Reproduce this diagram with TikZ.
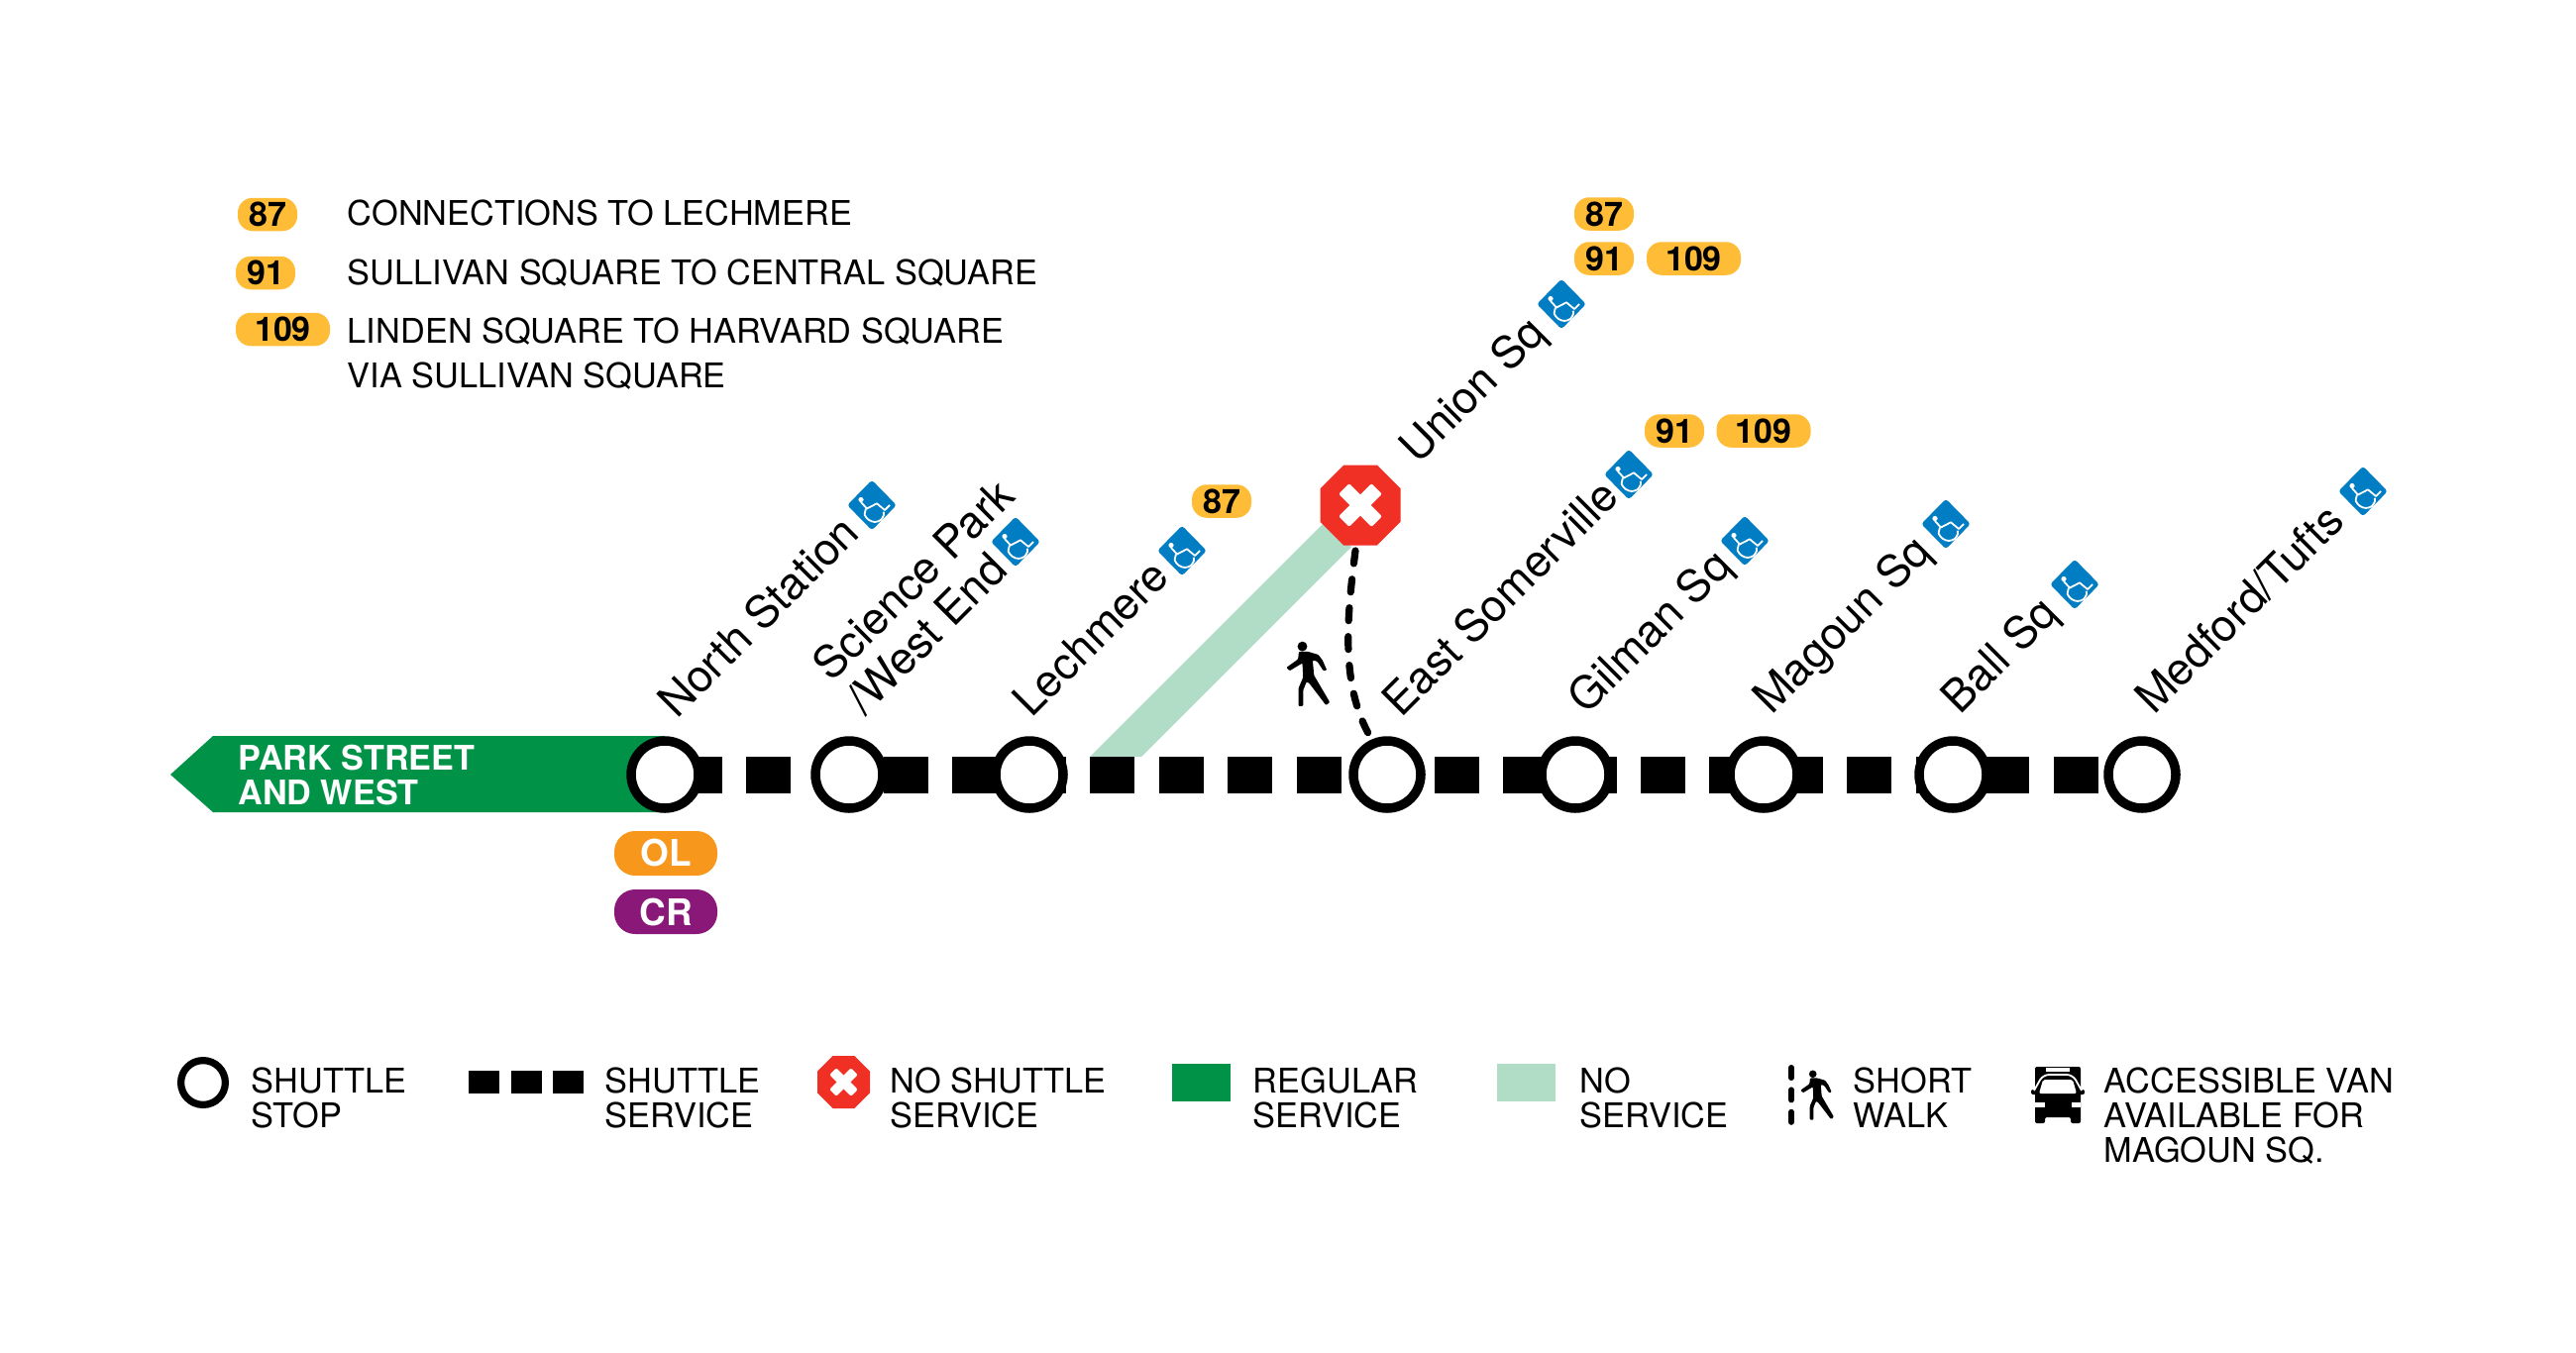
\documentclass[tikz,border=0pt]{standalone}
\usepackage{fontspec}
\setmainfont{TeX Gyre Heros}
\usetikzlibrary{shapes.geometric,backgrounds}
\definecolor{busyellow}{HTML}{FFBC37}
\definecolor{olorange}{HTML}{F7981D}
\definecolor{crpurple}{HTML}{8A1878}
\definecolor{rlgreen}{HTML}{009347}
\definecolor{lightgreen}{HTML}{B1DDC6}
\definecolor{stopred}{HTML}{F03024}
\definecolor{accblue}{HTML}{007DC3}
\tikzset{
  stop/.style={circle,draw=black,fill=white,line width=4.75pt,minimum size=34pt,inner sep=0pt},
  legstop/.style={circle,draw=black,fill=white,line width=3.6pt,minimum size=22.4pt,inner sep=0pt},
  station/.style={rotate=45,anchor=base west,inner sep=0pt,font=\fontsize{22.5}{24}\selectfont},
  stationtwo/.style={rotate=45,anchor=south west,inner sep=0pt,align=left,font=\fontsize{22.5}{24}\selectfont},
  busA/.style={fill=busyellow,rounded corners=7.5pt,minimum width=30pt,minimum height=16.75pt,inner sep=0pt,font=\fontsize{17}{17}\bfseries\selectfont,text=black},
  busB/.style={busA,minimum width=47.5pt},
  rail/.style={rounded corners=10.5pt,minimum width=52pt,minimum height=22.5pt,inner sep=0pt,font=\fontsize{18.5}{19}\bfseries\selectfont,text=white},
  legtext/.style={anchor=north west,inner sep=0pt,align=left,font=\fontsize{17.17}{17.5}\selectfont},
  octagon/.style={regular polygon,regular polygon sides=8,fill=stopred,inner sep=0pt},
  accnode/.style={diamond,fill=accblue,rounded corners=1.5pt,minimum width=25pt,minimum height=25.5pt,inner sep=0pt,aspect=1},
  walkdash/.style={line width=3.6pt,line cap=round,dash pattern=on 6.5pt off 8pt}
}
% name, x, y
\newcommand{\accesssign}[3]{%
  \node[accnode] (#1) at (#2,#3) {};
  \begin{scope}[shift={(#2,#3)},white,line width=0.9pt,line join=round]
    \fill (-11,-5.5) circle (2.6);
    \draw (-11,-3) -- (-5,3.5) -- (5,-1.7) -- (13,5) -- (18,0);
    \draw plot[smooth] coordinates {(-6,3.5) (-7.2,10) (-3,15) (3,17) (9,15) (12,10) (11.7,6.7)};
  \end{scope}}
% name, x, y, size
\newcommand{\noservice}[4]{%
  \node[octagon,minimum size=#4*43.84pt] (#1) at (#2,#3) {};
  \begin{scope}[shift={(#2,#3)},scale=#4,rotate=45]
    \fill[white,rounded corners=1pt] (-23.5,-7.5) rectangle (23.5,7.5);
    \fill[white,rounded corners=1pt] (-7.5,-23.5) rectangle (7.5,23.5);
  \end{scope}}
% x, y, scale
\newcommand{\walker}[3]{%
  \begin{scope}[shift={(#1,#2)},scale=#3]
    \fill (12.7,4.3) circle (3.8);
    \fill[rounded corners=0.5pt] (10,8.3) -- (16.7,8.3) -- (25,10.7) -- (28.3,15) -- (31.7,22.7) -- (29,23.3) -- (24.3,16) -- (20.7,15) -- (21.7,26.7) -- (34,47.7) -- (31,50) -- (18.3,33.3) -- (16,31.7) -- (13.3,38.3) -- (13.3,50.7) -- (9.7,50.7) -- (9.7,36.7) -- (13.3,28.3) -- (12.7,17.3) -- (2.7,23.3) -- (0.3,20.7) -- (9.3,14.3) -- cycle;
  \end{scope}}
\begin{document}
\begin{tikzpicture}[x=0.5pt,y=-0.5pt]
\useasboundingbox (0,0) rectangle (2600,1365);

% stops
\node[stop] (north) at (671,782) {};
\node[stop] (science) at (857,782) {};
\node[stop] (lech) at (1039,782) {};
\node[stop] (east) at (1400,782) {};
\node[stop] (gilman) at (1590,782) {};
\node[stop] (magoun) at (1780,782) {};
\node[stop] (ball) at (1971,782) {};
\node[stop] (medford) at (2162,782) {};
\noservice{union}{1373}{510}{1}

\coordinate (walkstart) at (1368,556);
\coordinate (walkend) at (1383,744);

\begin{scope}[on background layer]
  \fill[rlgreen] (172,782) -- (215,743) -- (north.center |- 0,743) -- (north.center |- 0,820) -- (215,820) -- cycle;
  \fill[lightgreen] (1100,764) -- (1335,529) -- (1364,552) -- (1152,764) -- cycle;
  \draw[line width=18.5pt,dash pattern=on 22.5pt off 12.225pt,dash phase=28.4pt] (north.center) -- (medford.center);
\end{scope}
\draw[walkdash] (walkstart) .. controls (1360,620) and (1352,690) .. (walkend);
\walker{1298}{647}{1.3}

\node[anchor=north west,inner sep=0pt,align=left,text=white,font=\fontsize{17.1}{17.5}\bfseries\selectfont] (parklabel) at (240,752) {PARK STREET\\AND WEST};

% rail connections
\node[rail,fill=olorange] (ol) at (672,861.5) {OL};
\node[rail,fill=crpurple] (cr) at (672,920.5) {CR};

% station names
\node[station] (tnorth) at (683,727) {North Station};
\node[stationtwo] (tscience) at (874,725) {Science Park\\/West End};
\node[station] (tlech) at (1041,726) {Lechmere};
\node[station] (tunion) at (1431,470) {Union Sq};
\node[station] (teast) at (1414,726) {East Somerville};
\node[station] (tgilman) at (1601,723) {Gilman Sq};
\node[station] (tmagoun) at (1788,723) {Magoun Sq};
\node[station] (tball) at (1978,723) {Ball Sq};
\node[station] (tmedford) at (2174,723) {Medford/Tufts};

% accessibility
\accesssign{anorth}{880}{510}
\accesssign{ascience}{1025}{547}
\accesssign{alech}{1193}{556}
\accesssign{aunion}{1576}{307}
\accesssign{aeast}{1644}{479}
\accesssign{agilman}{1761}{546}
\accesssign{amagoun}{1964}{529}
\accesssign{aball}{2094}{590}
\accesssign{amedford}{2385}{496}

% bus pills on the map
\node[busA] (b87u) at (1619,216) {87};
\node[busA] (b91u) at (1619,261) {91};
\node[busB] (b109u) at (1709.5,261) {109};
\node[busA] (b91e) at (1690,435) {91};
\node[busB] (b109e) at (1780,435) {109};
\node[busA] (b87l) at (1233,506) {87};

% bus key
\node[busA] (k87) at (270,216.5) {87};
\node[busA] (k91) at (268,275.5) {91};
\node[busB] (k109) at (285.5,332.5) {109};
\node[legtext] (t87) at (350.5,201.5) {CONNECTIONS TO LECHMERE};
\node[legtext] (t91) at (350.5,261.5) {SULLIVAN SQUARE TO CENTRAL SQUARE};
\node[legtext] (t109) at (350.5,320.5) {LINDEN SQUARE TO HARVARD SQUARE\\[4.75pt]VIA SULLIVAN SQUARE};

% bottom legend
\node[legstop] (lstop) at (205,1093) {};
\node[legtext] (lt1) at (253.5,1077.5) {SHUTTLE\\STOP};
\coordinate (ls1) at (473,1092.5);
\coordinate (ls2) at (589,1092.5);
\draw[line width=11.5pt,dash pattern=on 15.5pt off 5.75pt] (ls1) -- (ls2);
\node[legtext] (lt2) at (610.5,1077.5) {SHUTTLE\\SERVICE};
\noservice{lno}{851.5}{1092.5}{0.654}
\node[legtext] (lt3) at (898.5,1077.5) {NO SHUTTLE\\SERVICE};
\fill[rlgreen] (1183,1074) rectangle (1242,1112);
\node[legtext] (lt4) at (1264.5,1077.5) {REGULAR\\SERVICE};
\fill[lightgreen] (1511,1074) rectangle (1570,1112);
\node[legtext] (lt5) at (1594.5,1077.5) {NO\\SERVICE};
\draw[line width=3pt,line cap=round,dash pattern=on 5pt off 6.2pt] (1808,1078) -- (1808,1134);
\walker{1817}{1080}{1}
\node[legtext] (lt6) at (1870.5,1077.5) {SHORT\\WALK};
% van
\fill[rounded corners=1pt] (2054,1077) -- (2100,1077) -- (2100,1134) -- (2090,1134) -- (2090,1128) -- (2064,1128) -- (2064,1134) -- (2054,1134) -- cycle;
\fill[rounded corners=1pt] (2050,1100) rectangle (2056,1105);
\fill[rounded corners=1pt] (2098,1100) rectangle (2104,1105);
\fill[white] (2065,1078) rectangle (2089,1082);
\draw[white,line width=0.9pt,rounded corners=3pt] (2053,1101) -- (2062,1085) -- (2092,1085) -- (2101,1101);
\fill[white,rounded corners=1pt] (2058,1104) -- (2062,1090) -- (2092,1090) -- (2096,1104) -- cycle;
\fill[white] (2054,1113) rectangle (2064,1118);
\fill[white] (2091,1113) rectangle (2100,1118);
\node[legtext] (lt7) at (2123.5,1077.5) {ACCESSIBLE VAN\\AVAILABLE FOR\\MAGOUN SQ.};
\end{tikzpicture}
\end{document}
